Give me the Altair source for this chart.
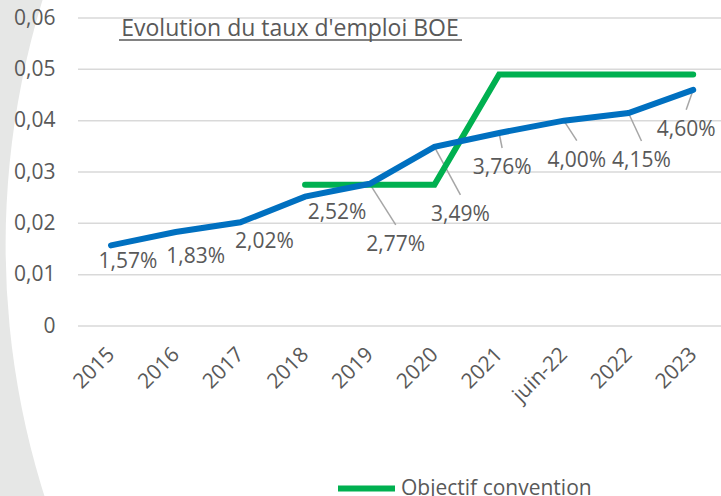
import json
import math
import altair as alt
import pandas as pd

# ---------------- data ----------------
categories = ["2015", "2016", "2017", "2018", "2019", "2020", "2021", "juin-22", "2022", "2023"]
taux_boe = [0.0157, 0.0183, 0.0202, 0.0252, 0.0277, 0.0349, 0.0376, 0.0400, 0.0415, 0.0460]
objectif = [None, None, None, 0.0275, 0.0275, 0.0275, 0.049, 0.049, 0.049, 0.049]
y_ticks = [0, 0.01, 0.02, 0.03, 0.04, 0.05, 0.06]
title_text = "Evolution du taux d'emploi BOE"
legend_label = "Objectif convention"

# label placement (pixel offsets of each data label from its point) - styling
label_dx = [17, 20, 24, 32, 26, 26, 3, 13, 13, -7]
label_dy = [17, 25, 20, 16, 61, 68, 35, 40, 48, 40]
has_leader = [False, False, False, False, True, True, True, True, True, True]

# ---------------- geometry / style ----------------
W, H = 643, 308
X_DOMAIN = [-0.51, 9.43]
Y_DOMAIN = [0, 0.06]
PX_X = W / (X_DOMAIN[1] - X_DOMAIN[0])
PX_Y = H / (Y_DOMAIN[1] - Y_DOMAIN[0])
TXT = "#595959"
FONT = "Open Sans"
FS = 21

df = pd.DataFrame({
    "idx": list(range(len(categories))),
    "cat": categories,
    "v": taux_boe,
    "obj": objectif,
    "ldx": label_dx,
    "ldy": label_dy,
    "leader": has_leader,
})

xscale = alt.Scale(domain=X_DOMAIN, nice=False, zero=False)
yscale = alt.Scale(domain=Y_DOMAIN, nice=False, zero=False)

x_axis = alt.Axis(
    values=list(range(len(categories))),
    labelExpr=json.dumps(categories) + "[round(datum.value)]",
    labelAngle=-45, labelAlign="right", labelBaseline="middle",
    labelPadding=25, ticks=False, domain=False, grid=False,
    labelFontSize=FS, labelColor=TXT, labelFont=FONT,
    labelOverlap=False, labelFlush=False, title=None, zindex=1,
)
y_axis = alt.Axis(
    values=y_ticks,
    labelExpr="datum.value == 0 ? '0' : replace(format(datum.value, '.2f'), '.', ',')",
    grid=False, domain=False, ticks=False, labelPadding=23,
    labelFontSize=FS, labelColor=TXT, labelFont=FONT, title=None, zindex=1,
)


def X(field):
    return alt.X(field, scale=xscale, axis=x_axis)


def Y(field):
    return alt.Y(field, scale=yscale, axis=y_axis)


one = alt.Data(values=[{"k": 1}])

# white page shape over the grey background
R = 830
page = alt.Chart(one).mark_point(
    shape="circle", filled=True, size=(2 * R) ** 2, color="white",
    opacity=1, strokeWidth=0,
).encode(x=alt.value(757.6), y=alt.value(227))

grid = alt.Chart(pd.DataFrame({"t": y_ticks})).mark_rule(
    color="#d9d9d9", strokeWidth=1.5
).encode(
    y=Y("t:Q"),
    x=alt.value(0), x2=alt.value(W),
)

base = alt.Chart(df)

leaders = base.transform_filter("datum.leader").transform_calculate(
    lx2=f"datum.idx + datum.ldx / {PX_X}",
    ly2=f"datum.v - (datum.ldy - 20) / {PX_Y}",
).mark_rule(color="#a6a6a6", strokeWidth=1.5).encode(
    x=X("idx:Q"), y=Y("v:Q"),
    x2="lx2:Q", y2="ly2:Q",
)

green = base.transform_filter("isValid(datum.obj)").transform_calculate(
    serie=f"'{legend_label}'"
).mark_line(strokeWidth=6, strokeCap="round").encode(
    x=X("idx:Q"), y=Y("obj:Q"),
    color=alt.Color(
        "serie:N",
        scale=alt.Scale(domain=[legend_label], range=["#00b050"]),
        legend=alt.Legend(
            orient="none", legendX=257, legendY=439, title=None,
            symbolType="stroke", symbolSize=3249, symbolStrokeWidth=6,
            labelFontSize=FS, labelColor=TXT, labelFont=FONT,
            labelOffset=3, padding=0, zindex=1, labelLimit=400,
        ),
    ),
)

blue = base.mark_line(color="#0070c0", strokeWidth=6, strokeCap="round").encode(
    x=X("idx:Q"), y=Y("v:Q"),
)

labels = base.transform_calculate(
    lx=f"datum.idx + datum.ldx / {PX_X}",
    ly=f"datum.v - datum.ldy / {PX_Y}",
    lbl="replace(format(datum.v, '.2%'), '.', ',')",
).mark_text(
    fontSize=FS, color=TXT, font=FONT, baseline="middle", align="center"
).encode(
    x=X("lx:Q"), y=Y("ly:Q"),
    text="lbl:N",
)

title = alt.Chart(one).mark_text(
    fontSize=23, color=TXT, font=FONT, align="center", baseline="alphabetic"
).encode(x=alt.value(212), y=alt.value(18), text=alt.value(title_text))

underline = alt.Chart(one).mark_rule(color=TXT, strokeWidth=1.5).encode(
    x=alt.value(41), x2=alt.value(384), y=alt.value(22)
)

chart = alt.layer(page, grid, leaders, green, blue, labels, title, underline).properties(
    width=W, height=H,
    autosize=alt.AutoSizeParams(type="none"),
    padding={"left": 78, "top": 18, "right": 0, "bottom": 170},
    background="#e6e7e6",
).configure(font=FONT).configure_view(stroke=None, fill=None)

chart.save("out.html", embed_options={"renderer": "svg", "actions": False})
